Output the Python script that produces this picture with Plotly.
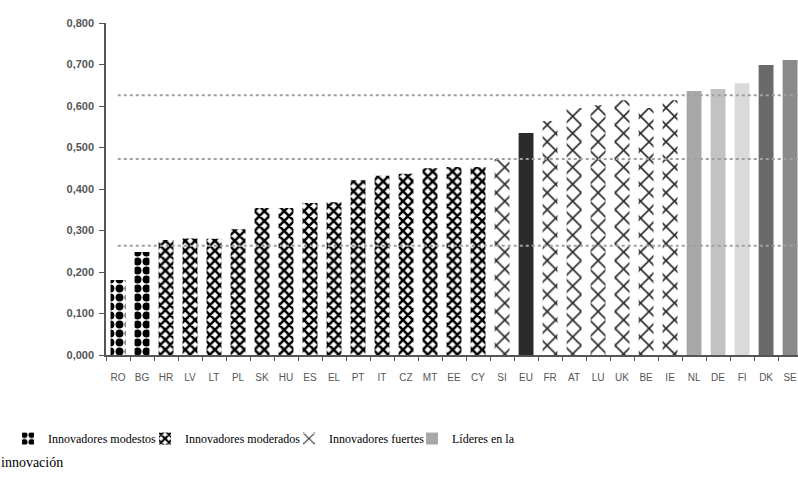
import plotly.graph_objects as go

countries = ["RO", "BG", "HR", "LV", "LT", "PL", "SK", "HU", "ES", "EL", "PT", "IT", "CZ", "MT",
             "EE", "CY", "SI", "EU", "FR", "AT", "LU", "UK", "BE", "IE", "NL", "DE", "FI", "DK", "SE"]
values = [0.181, 0.248, 0.277, 0.281, 0.280, 0.303, 0.354, 0.354, 0.366, 0.368, 0.421, 0.432, 0.437, 0.450,
          0.453, 0.453, 0.472, 0.535, 0.564, 0.595, 0.602, 0.614, 0.595, 0.614, 0.636, 0.641, 0.655, 0.699, 0.711]

modestos = ["RO", "BG"]
moderados = ["HR", "LV", "LT", "PL", "SK", "HU", "ES", "EL", "PT", "IT", "CZ", "MT", "EE", "CY"]
fuertes = ["SI", "FR", "AT", "LU", "UK", "BE", "IE"]
lideres = ["NL", "DE", "FI", "DK", "SE"]
eu = ["EU"]

legend_names = ["Innovadores modestos", "Innovadores moderados", "Innovadores fuertes", "Líderes en la"]
legend_wrap = "innovación"
thresholds = [0.263, 0.472, 0.626]
y_ticks = [0.0, 0.1, 0.2, 0.3, 0.4, 0.5, 0.6, 0.7, 0.8]

val = dict(zip(countries, values))

def ys(members):
    return [val[c] for c in members]

SERIF = "Liberation Serif, Times New Roman, Times, serif"
fig = go.Figure()

fig.add_trace(go.Bar(x=modestos, y=ys(modestos), name=legend_names[0], legend="legend",
                     marker=dict(color="white", line=dict(width=0),
                                 pattern=dict(shape=".", fgcolor="black", fgopacity=1,
                                              size=9, solidity=0.6, fillmode="overlay"))))
fig.add_trace(go.Bar(x=moderados, y=ys(moderados), name=legend_names[1], legend="legend2",
                     marker=dict(color="white", line=dict(width=0),
                                 pattern=dict(shape="x", fgcolor="black", fgopacity=1,
                                              size=7, solidity=0.6, fillmode="overlay"))))
fig.add_trace(go.Bar(x=fuertes, y=ys(fuertes), name=legend_names[2], legend="legend3",
                     marker=dict(color="white", line=dict(width=0),
                                 pattern=dict(shape="x", fgcolor="#2a2a2a", fgopacity=1,
                                              size=12, solidity=0.25, fillmode="overlay"))))
fig.add_trace(go.Bar(x=eu, y=ys(eu), name="EU", showlegend=False,
                     marker=dict(color="#2b2b2b", line=dict(width=0))))
lider_colors = ["#a8a8a8", "#c2c2c2", "#dadada", "#6a6a6a", "#8a8a8a"]
fig.add_trace(go.Bar(x=lideres, y=ys(lideres), name=legend_names[3], legend="legend4",
                     marker=dict(color=lider_colors, line=dict(width=0))))

for t in thresholds:
    fig.add_shape(type="line", xref="paper", yref="y", x0=0.017, x1=1, y0=t, y1=t,
                  line=dict(color="#a0a0a0", width=2, dash="dot"), layer="above")

fig.add_annotation(text=legend_wrap, xref="paper", yref="paper", x=-0.155, y=-0.325,
                   xanchor="left", yanchor="middle", showarrow=False,
                   font=dict(family=SERIF, size=14, color="black"))

leg_common = dict(orientation="h", y=-0.208, xanchor="left", yanchor="top",
                  font=dict(family=SERIF, size=12, color="black"),
                  bgcolor="rgba(0,0,0,0)", itemwidth=30)

fig.update_layout(
    width=798, height=488,
    margin=dict(l=106, r=0, t=23, b=133),
    paper_bgcolor="white", plot_bgcolor="white",
    barmode="overlay", bargap=0.38,
    separators=",.",
    showlegend=True,
    legend=dict(x=-0.1416, **leg_common),
    legend2=dict(x=0.0564, **leg_common),
    legend3=dict(x=0.2644, **leg_common),
    legend4=dict(x=0.4422, **leg_common),
    xaxis=dict(type="category", categoryorder="array", categoryarray=countries,
               range=[-0.5, 28.33], showline=True, linecolor="#555555", linewidth=1.5,
               ticks="outside", ticklen=4, tickcolor="#555555", tickson="boundaries",
               showgrid=False, ticklabelstandoff=12, tickangle=0,
               tickfont=dict(family="Liberation Sans", size=10, color="#555555")),
    yaxis=dict(range=[0, 0.8], tickvals=y_ticks, tickformat=".3f",
               showline=True, linecolor="#555555", linewidth=1.5,
               ticks="outside", ticklen=5, tickcolor="#555555", showgrid=False, zeroline=False,
               ticklabelstandoff=3,
               tickfont=dict(family="Liberation Sans", size=11, color="#555555", weight="bold")),
)

fig.write_html("out.html")
